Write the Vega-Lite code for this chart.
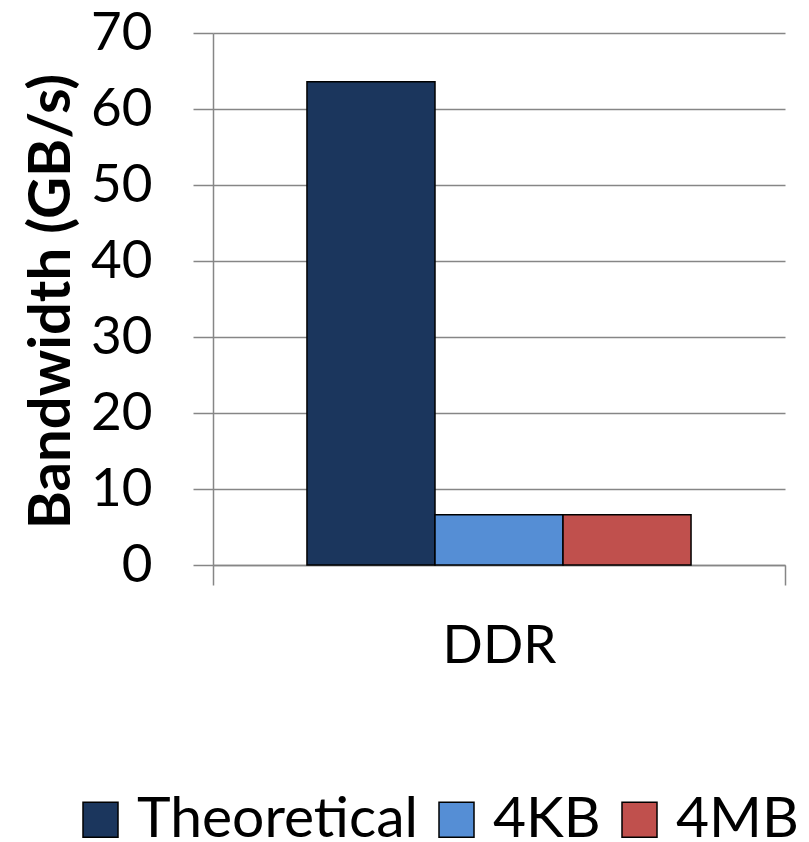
{
  "$schema": "https://vega.github.io/schema/vega-lite/v6.json",
  "width": 572,
  "height": 532,
  "autosize": "none",
  "padding": {"left": 213, "top": 33, "right": 24, "bottom": 277},
  "background": "white",
  "config": {
    "font": "Lato",
    "view": {"stroke": null}
  },
  "data": {
    "values": [
      {"memory": "DDR", "series": "Theoretical", "bandwidth": 63.6},
      {"memory": "DDR", "series": "4KB", "bandwidth": 6.6},
      {"memory": "DDR", "series": "4MB", "bandwidth": 6.6}
    ]
  },
  "mark": {"type": "bar", "stroke": "black", "strokeWidth": 1.5},
  "encoding": {
    "x": {
      "field": "memory",
      "type": "nominal",
      "scale": {"paddingInner": 0, "paddingOuter": 0},
      "axis": {
        "title": null,
        "labelAngle": 0,
        "labelFontSize": 53,
        "labelColor": "black",
        "labelPadding": 35,
        "tickBand": "extent",
        "tickSize": 20,
        "tickColor": "#868686",
        "tickWidth": 1.5,
        "domainColor": "#868686",
        "domainWidth": 1.5,
        "grid": false
      }
    },
    "xOffset": {
      "field": "series",
      "type": "nominal",
      "sort": ["Theoretical", "4KB", "4MB"],
      "scale": {"paddingInner": 0, "paddingOuter": 0.734}
    },
    "y": {
      "field": "bandwidth",
      "type": "quantitative",
      "scale": {"domain": [0, 70], "nice": false},
      "axis": {
        "title": "Bandwidth (GB/s)",
        "titleFontSize": 58,
        "titleFontWeight": "bold",
        "titleColor": "black",
        "titleAngle": -90,
        "titleAlign": "center",
        "titleBaseline": "alphabetic",
        "titleX": -144,
        "titleY": 268,
        "values": [0, 10, 20, 30, 40, 50, 60, 70],
        "labelFontSize": 53,
        "labelColor": "black",
        "labelPadding": 41,
        "tickSize": 20,
        "tickColor": "#868686",
        "tickWidth": 1.5,
        "domainColor": "#868686",
        "domainWidth": 1.5,
        "grid": true,
        "gridColor": "#868686",
        "gridWidth": 1.5
      }
    },
    "color": {
      "field": "series",
      "type": "nominal",
      "sort": ["Theoretical", "4KB", "4MB"],
      "scale": {
        "domain": ["Theoretical", "4KB", "4MB"],
        "range": ["#1B365D", "#558ED5", "#C0504D"]
      },
      "legend": {
        "title": null,
        "orient": "none",
        "direction": "horizontal",
        "legendX": -141,
        "legendY": 758,
        "padding": 0,
        "symbolType": "square",
        "symbolSize": 1225,
        "symbolStrokeColor": "black",
        "symbolStrokeWidth": 1.5,
        "symbolOpacity": 1,
        "labelFontSize": 57,
        "labelColor": "black",
        "labelOffset": 8,
        "columnPadding": 10,
        "labelLimit": 400
      }
    }
  }
}
